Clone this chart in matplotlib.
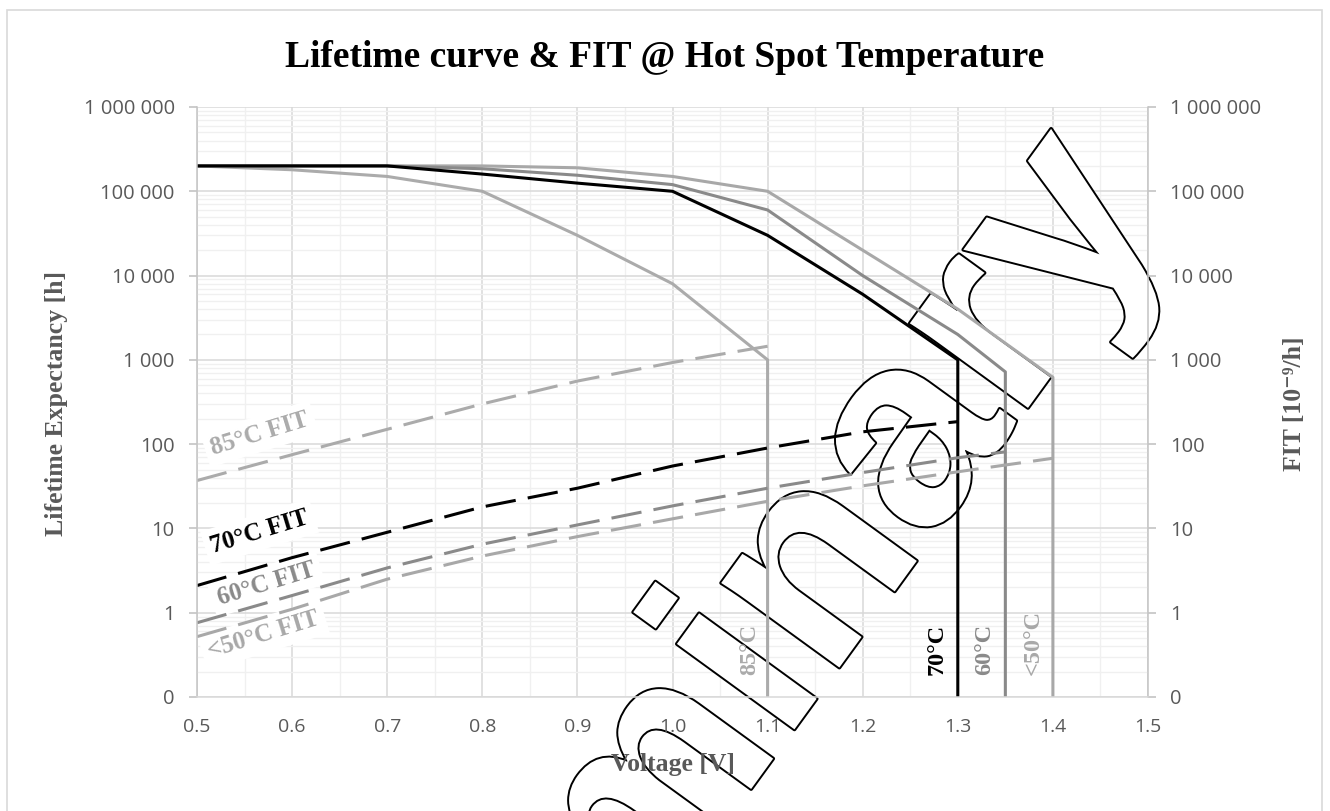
import numpy as np
import matplotlib
matplotlib.use("Agg")
import matplotlib.pyplot as plt
from matplotlib import patheffects as pe
from matplotlib.patches import Rectangle
from matplotlib.ticker import FixedLocator, LogLocator, NullFormatter

# ---------------- data ----------------
v_85 = [0.5, 0.6, 0.7, 0.8, 0.9, 1.0, 1.1, 1.1]
life_85 = [200000, 180000, 150000, 100000, 30000, 8000, 1000, 0.1]

v_70 = [0.5, 0.6, 0.7, 0.8, 0.9, 1.0, 1.1, 1.2, 1.3, 1.3]
life_70 = [200000, 200000, 200000, 160000, 125000, 100000, 30000, 6000, 1000, 0.1]

v_60 = [0.5, 0.6, 0.7, 0.8, 0.9, 1.0, 1.1, 1.2, 1.3, 1.35, 1.35]
life_60 = [200000, 200000, 200000, 185000, 155000, 120000, 60000, 10000, 2000, 720, 0.1]

v_50 = [0.5, 0.6, 0.7, 0.8, 0.9, 1.0, 1.1, 1.2, 1.3, 1.4, 1.4]
life_50 = [200000, 200000, 200000, 200000, 190000, 150000, 100000, 20000, 4000, 620, 0.1]

fit_v_85 = [0.5, 0.6, 0.7, 0.8, 0.9, 1.0, 1.1]
fit_85 = [37, 75, 150, 300, 560, 930, 1450]

fit_v_70 = [0.5, 0.6, 0.7, 0.8, 0.9, 1.0, 1.1, 1.2, 1.3]
fit_70 = [2.1, 4.5, 9, 18, 30, 55, 90, 140, 185]

fit_v_60 = [0.5, 0.6, 0.7, 0.8, 0.9, 1.0, 1.1, 1.2, 1.3, 1.35]
fit_60 = [0.76, 1.6, 3.4, 6.5, 11, 18.5, 30, 46, 69, 81]

fit_v_50 = [0.5, 0.6, 0.7, 0.8, 0.9, 1.0, 1.1, 1.2, 1.3, 1.4]
fit_50 = [0.52, 1.1, 2.5, 4.7, 8, 13, 21, 32, 47, 68]

x_ticks = [0.5, 0.6, 0.7, 0.8, 0.9, 1.0, 1.1, 1.2, 1.3, 1.4, 1.5]
x_tick_labels = ["0.5", "0.6", "0.7", "0.8", "0.9", "1.0", "1.1", "1.2", "1.3", "1.4", "1.5"]
x_minor_ticks = [0.55, 0.65, 0.75, 0.85, 0.95, 1.05, 1.15, 1.25, 1.35, 1.45]
y_ticks = [0.1, 1, 10, 100, 1000, 10000, 100000, 1000000]
y_tick_labels = ["0", "1", "10", "100", "1 000", "10 000", "100 000", "1 000 000"]

title = "Lifetime curve & FIT @ Hot Spot Temperature"
ylabel_left = "Lifetime Expectancy [h]"
ylabel_right = "FIT [10\u207b\u2079/h]"
xlabel = "Voltage [V]"
watermark = "Preliminary"

# ---------------- styling ----------------
C_BLACK = "#000000"
C_MID = "#8a8a8a"
C_LIGHT = "#a8a8a8"
C_85 = "#ababab"
TICK_C = "#595959"
SERIF = ["Liberation Serif", "DejaVu Serif"]
SANS = ["Open Sans", "DejaVu Sans"]

W, H = 1330, 811
fig = plt.figure(figsize=(W / 100, H / 100), dpi=100)
fig.patch.set_facecolor("white")

# outer chart border
fig.patches.append(Rectangle((7 / W, -0.02), 1315 / W, 1 - 10 / H + 0.02,
                             transform=fig.transFigure, fill=False,
                             ec="#d9d9d9", lw=1.2, zorder=0))

L, R, T, B = 197, 1148, 107, 697
rect = [L / W, 1 - B / H, (R - L) / W, (B - T) / H]

# ---- grid layer (below the watermark) ----
ax = fig.add_axes(rect, zorder=0)
ax.set_yscale("log")
ax.set_xlim(0.5, 1.5)
ax.set_ylim(0.1, 1e6)
ax.set_axisbelow(True)
ax.xaxis.set_major_locator(FixedLocator(x_ticks))
ax.xaxis.set_minor_locator(FixedLocator(x_minor_ticks))
ax.yaxis.set_major_locator(FixedLocator(y_ticks))
ax.yaxis.set_minor_locator(LogLocator(base=10, subs=(2, 3, 4, 5, 6, 7, 8, 9), numticks=20))
ax.yaxis.set_minor_formatter(NullFormatter())
ax.grid(which="major", color="#d9d9d9", lw=1.1)
ax.grid(which="minor", color="#f0f0f0", lw=1.0)
ax.tick_params(which="both", length=0, labelleft=False, labelbottom=False)
for s in ax.spines.values():
    s.set_visible(False)

# ---- outlined watermark ----
fig.text(289 / W, 1 - 1425 / H, watermark, rotation=54, rotation_mode="anchor",
         ha="left", va="baseline", fontsize=198, fontweight="bold",
         family=["Liberation Sans", "DejaVu Sans"], color="white",
         path_effects=[pe.withStroke(linewidth=2.8, foreground="black")], zorder=1)

# ---- data + axis layer (above the watermark) ----
ov = fig.add_axes(rect, zorder=2)
ov.patch.set_visible(False)
ov.set_yscale("log")
ov.set_xlim(0.5, 1.5)
ov.set_ylim(0.1, 1e6)

lw = 2.2
ov.plot(v_50, life_50, color=C_LIGHT, lw=lw, zorder=2)
ov.plot(v_85, life_85, color=C_85, lw=lw, zorder=2)
ov.plot(v_60, life_60, color=C_MID, lw=lw, zorder=2.1)
ov.plot(v_70, life_70, color=C_BLACK, lw=lw, zorder=2.2)

dash = (10, 4)
ov.plot(fit_v_85, fit_85, color=C_85, lw=lw, dashes=dash, zorder=2.3)
ov.plot(fit_v_50, fit_50, color=C_LIGHT, lw=lw, dashes=dash, zorder=2.3)
ov.plot(fit_v_60, fit_60, color=C_MID, lw=lw, dashes=dash, zorder=2.3)
ov.plot(fit_v_70, fit_70, color=C_BLACK, lw=lw, dashes=dash, zorder=2.4)

box = dict(boxstyle="square,pad=0.25", fc="white", ec="none")
fit_lab = [("85°C FIT", 0.517, 74.5, C_85),
           ("70°C FIT", 0.517, 5.1, C_BLACK),
           ("60°C FIT", 0.524, 1.24, C_MID),
           ("<50°C FIT", 0.514, 0.29, C_LIGHT)]
for txt, x, y, c in fit_lab:
    ov.text(x, y, txt, rotation=17, rotation_mode="anchor", ha="left", va="baseline",
            color=c, fontsize=18, fontweight="bold", family=SERIF, bbox=box, zorder=1.5)

v_lab = [("85°C", 1.0815, C_85), ("70°C", 1.278, C_BLACK),
         ("60°C", 1.3286, C_MID), ("<50°C", 1.379, C_LIGHT)]
for txt, x, c in v_lab:
    ov.text(x, 0.183, txt, rotation=90, ha="center", va="bottom", color=c,
            fontsize=17.5, fontweight="bold", family=SERIF, zorder=1.5)

ov.xaxis.set_major_locator(FixedLocator(x_ticks))
ov.set_xticklabels(x_tick_labels)
ov.xaxis.set_minor_locator(FixedLocator([]))
ov.yaxis.set_major_locator(FixedLocator(y_ticks))
ov.set_yticklabels(y_tick_labels)
ov.yaxis.set_minor_locator(FixedLocator([]))
ov.tick_params(axis="x", which="both", length=0, pad=15, labelsize=14, labelcolor=TICK_C)
ov.tick_params(axis="y", which="major", left=True, right=True, labelleft=True,
               labelright=True, length=6, width=1.1, color="#bfbfbf",
               pad=10, labelsize=14.5, labelcolor=TICK_C)
for lab in ov.get_xticklabels():
    lab.set_family(SANS)
for t in ov.yaxis.get_major_ticks():
    t.label1.set_family(SANS)
    t.label2.set_family(SANS)
ov.spines["top"].set_visible(False)
for s in ("left", "right"):
    ov.spines[s].set_color("#c4c4c4")
    ov.spines[s].set_linewidth(1.1)
ov.spines["bottom"].set_color("#d9d9d9")
ov.spines["bottom"].set_linewidth(1.1)

# titles
fig.text(0.5, 1 - 67 / H, title, ha="center", va="baseline", fontsize=27,
         fontweight="bold", family=SERIF, color="black", zorder=3)
fig.text(57 / W, 1 - 403 / H, ylabel_left, rotation=90, ha="center", va="center",
         fontsize=18.5, fontweight="bold", family=SERIF, color=TICK_C, zorder=3)
fig.text(1294 / W, 1 - 404 / H, ylabel_right, rotation=90, ha="center", va="center",
         fontsize=18.5, fontweight="bold", family=SERIF, color=TICK_C, zorder=3)
fig.text(673 / W, 1 - 765 / H, xlabel, ha="center", va="center",
         fontsize=18.5, fontweight="bold", family=SERIF, color=TICK_C, zorder=3)

fig.savefig("out.png", dpi=100, facecolor="white")
